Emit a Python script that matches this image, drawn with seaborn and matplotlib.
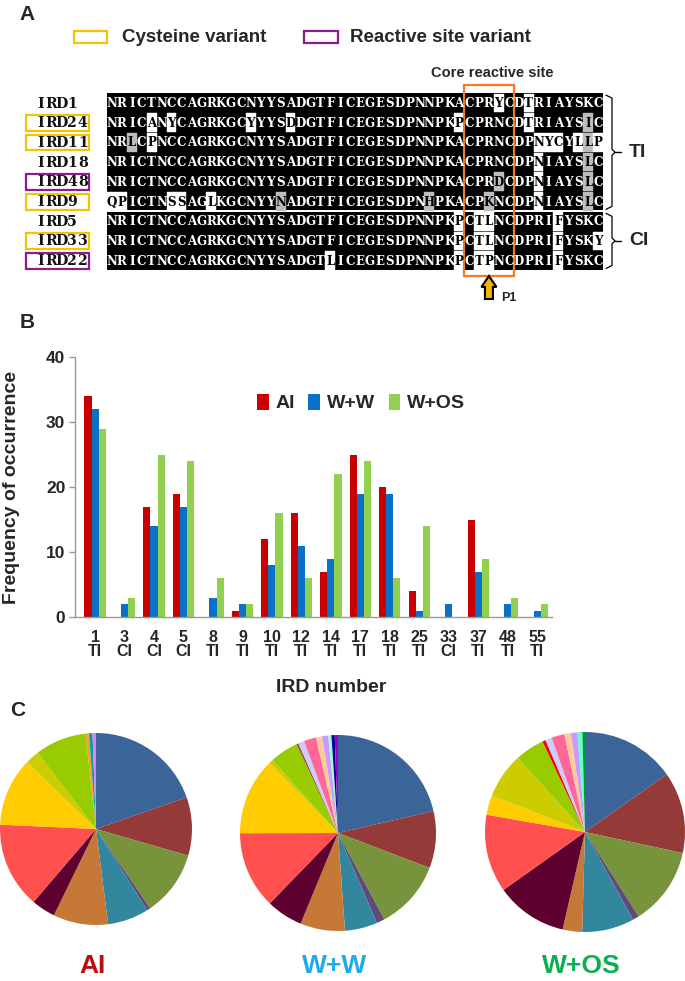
import matplotlib
matplotlib.use("Agg")
import matplotlib.pyplot as plt
import seaborn as sns
import pandas as pd
from collections import Counter
from matplotlib.patches import Rectangle, Polygon
from matplotlib.lines import Line2D

# ---------------- data ----------------
ird_numbers = ["1", "3", "4", "5", "8", "9", "10", "12", "14", "17", "18", "25", "33", "37", "48", "55"]
ird_class = ["TI", "CI", "CI", "CI", "TI", "TI", "TI", "TI", "TI", "TI", "TI", "TI", "CI", "TI", "TI", "TI"]
freq_ai = [34, 0, 17, 19, 0, 1, 12, 16, 7, 25, 20, 4, 0, 15, 0, 0]
freq_ww = [32, 2, 14, 17, 3, 2, 8, 11, 9, 19, 19, 1, 2, 7, 2, 1]
freq_wos = [29, 3, 25, 24, 6, 2, 16, 6, 22, 24, 6, 14, 0, 9, 3, 2]
conditions = ["AI", "W+W", "W+OS"]
bar_colors = ["#C80000", "#0A70C8", "#92D050"]

# pie: main slices (taken from the bar data) and small extra slices
pie_order = ["1", "4", "5", "9", "10", "12", "14", "17", "18", "25", "37"]
pie_main_colors = ["#3B6598", "#943A38", "#77933C", "#604A7B", "#32869E", "#C67836",
                   "#5E0030", "#FF5050", "#FFCC00", "#CCCC00", "#99CC00"]
extra_ai = [1, 1, 1]
extra_ai_colors = ["#FF9933", "#00A3A0", "#EE77FF"]
extra_ww = [0.5, 1.5, 3, 1.5, 1.5, 0.8, 0.8, 0.8]
extra_ww_colors = ["#A0522D", "#CCCCFF", "#FF6699", "#FFCC99", "#CC99FF", "#99FFCC", "#000099", "#9900CC"]
extra_wos = [1, 2, 4, 2, 2, 1.5, 0.8]
extra_wos_colors = ["#FF0000", "#CCCCFF", "#FF6699", "#FFCC99", "#CC99FF", "#66FFCC", "#009933"]
pie_titles = ["AI", "W+W", "W+OS"]
pie_title_colors = ["#B81010", "#1AACEB", "#0BAF50"]

# alignment
seq_names = ["IRD1", "IRD24", "IRD11", "IRD18", "IRD48", "IRD9", "IRD5", "IRD33", "IRD22"]
seqs = [
    "NRICTNCCAGRKGCNYYSADGTFICEGESDPNNPKACPRYCDTRIAYSKC",
    "NRICANYCAGRKGCYYYSDDGTFICEGESDPNNPKPCPRNCDTRIAYSIC",
    "NRLCPNCCAGRKGCNYYSADGTFICEGESDPNNPKACPRNCDPNYCYLLP",
    "NRICTNCCAGRKGCNYYSADGTFICEGESDPNNPKACPRNCDPNIAYSLC",
    "NRICTNCCAGRKGCNYYSADGTFICEGESDPNNPKACPRDCDPNIAYSLC",
    "QPICTNSSAGLKGCNYYNADGTFICEGESDPNHPKACPKNCDPNIAYSLC",
    "NRICTNCCAGRKGCNYYSADGTFICEGESDPNNPKPCTLNCDPRIFYSKC",
    "NRICTNCCAGRKGCNYYSADGTFICEGESDPNNPKPCTLNCDPRIFYSKY",
    "NRICTNCCAGRKGCNYYSADGTLICEGESDPNNPKPCTPNCDPRIFYSKC",
]
variant_type = {"IRD24": "cys", "IRD11": "cys", "IRD9": "cys", "IRD33": "cys",
                "IRD48": "react", "IRD22": "react"}
gray_cells = [("IRD11", 2), ("IRD9", 17), ("IRD9", 32), ("IRD9", 38), ("IRD48", 39),
              ("IRD24", 48), ("IRD11", 48), ("IRD18", 48), ("IRD48", 48), ("IRD9", 48)]
group_labels = ["TI", "CI"]
group_rows = [(0, 5), (6, 8)]

# ---------------- figure ----------------
sns.set_theme(style="ticks")
plt.rcParams["font.family"] = ["Liberation Sans", "DejaVu Sans"]
plt.rcParams["font.weight"] = "bold"
plt.rcParams["axes.labelweight"] = "bold"

W, H = 685, 981
fig = plt.figure(figsize=(W / 100, H / 100), dpi=100)
ov = fig.add_axes([0, 0, 1, 1])
ov.set_xlim(0, W)
ov.set_ylim(H, 0)
ov.axis("off")

CYS_COL = "#F5C400"
REACT_COL = "#8B1C8B"
SEQ_FONT = "DejaVu Serif"

# panel letters
for letter, (lx, ly) in zip("ABC", [(27, 15), (27, 323), (18, 711)]):
    ov.text(lx, ly, letter, ha="center", va="center", fontsize=15, weight="bold")

# legend of panel A
ov.add_patch(Rectangle((74, 31), 33, 12, fill=False, ec=CYS_COL, lw=1.6))
ov.text(122, 37, "Cysteine variant", ha="left", va="center", fontsize=13.5, weight="bold")
ov.add_patch(Rectangle((304, 31), 34, 12, fill=False, ec=REACT_COL, lw=1.6))
ov.text(350, 37, "Reactive site variant", ha="left", va="center", fontsize=13.5, weight="bold")
ov.text(492, 73, "Core reactive site", ha="center", va="center", fontsize=10.5, weight="bold")

# alignment
X0, CW, Y0, RH = 107, 9.92, 103, 19.7
ncol = len(seqs[0])
consensus = [Counter(s[j] for s in seqs).most_common(1)[0][0] for j in range(ncol)]
gray_set = set(gray_cells)
for (r0, r1) in group_rows:
    top = Y0 + (r0 - 0.5) * RH + (1 if r0 > 0 else 0)
    bot = Y0 + (r1 + 0.5) * RH - (1 if r1 < len(seqs) - 1 else 0)
    ov.add_patch(Rectangle((X0, top), ncol * CW, bot - top, color="black", lw=0))

for i, (name, s) in enumerate(zip(seq_names, seqs)):
    yc = Y0 + i * RH
    for j, ch in enumerate(s):
        xc = X0 + (j + 0.5) * CW
        if (name, j) in gray_set:
            bg, fg = "#BDBDBD", "black"
        elif ch != consensus[j]:
            bg, fg = "white", "black"
        else:
            bg, fg = None, "white"
        if bg is not None:
            ov.add_patch(Rectangle((X0 + j * CW, yc - RH / 2 + 0.5), CW, RH - 1,
                                   color=bg, lw=0.3, ec=bg))
        ov.text(xc, yc + 0.5, ch, ha="center", va="center", fontsize=8.6,
                family=SEQ_FONT, weight="bold", color=fg)
    # label
    for k, ch in enumerate(name):
        ov.text(35 + (k + 0.5) * 10.6, yc + 0.5, ch, ha="center", va="center", fontsize=10.2,
                family=SEQ_FONT, weight="bold", color="#111111")
    if name in variant_type:
        col = CYS_COL if variant_type[name] == "cys" else REACT_COL
        ov.add_patch(Rectangle((26, yc - 7.5), 63, 15.5, fill=False, ec=col, lw=1.6))

# brackets
for lab, (r0, r1) in zip(group_labels, group_rows):
    top = Y0 + (r0 - 0.5) * RH + 2
    bot = Y0 + (r1 + 0.5) * RH - 2
    mid = (top + bot) / 2
    bx = 612
    ov.add_line(Line2D([bx - 6, bx, bx, bx + 3, bx, bx, bx - 6],
                       [top, top + 3, mid - 3, mid, mid + 3, bot - 3, bot],
                       color="black", lw=0.9))
    ov.add_line(Line2D([bx + 3, bx + 9], [mid, mid], color="black", lw=1.0))
    ov.text(629, mid, lab, ha="left", va="center", fontsize=14, weight="bold")

# core reactive site box (columns 36-40)
ov.add_patch(Rectangle((X0 + 36 * CW, 85), 5 * CW, 191, fill=False, ec="#F07A28", lw=1.6))
# P1 arrow (column 38)
ax_c = X0 + 38.5 * CW
arrow_pts = [(ax_c - 4, 299), (ax_c - 4, 287), (ax_c - 7.5, 287), (ax_c, 276),
             (ax_c + 7.5, 287), (ax_c + 4, 287), (ax_c + 4, 299)]
ov.add_patch(Polygon(arrow_pts, closed=True, fc="#F5B400", ec="black", lw=1.5))
ov.text(ax_c + 12, 298, "P1", ha="left", va="center", fontsize=9, weight="bold")

# ---------------- panel B: bar chart ----------------
xlabels = [f"{n}\n{c}" for n, c in zip(ird_numbers, ird_class)]
df = pd.DataFrame({
    "label": xlabels * 3,
    "count": freq_ai + freq_ww + freq_wos,
    "cond": [c for c in conditions for _ in xlabels],
})
ax = fig.add_axes([75 / W, 1 - 617 / H, 477 / W, 260 / H])
sns.barplot(data=df, x="label", y="count", hue="cond", hue_order=conditions, order=xlabels,
            palette=bar_colors, width=0.72, saturation=1, ax=ax, linewidth=0)
ax.set_ylim(0, 40)
ax.set_xlim(-0.68, 15.5)
ax.set_yticks([0, 10, 20, 30, 40])
ax.set_xlabel("")
ax.set_ylabel("Frequency of occurrence", fontsize=14, weight="bold")
ax.yaxis.set_label_coords(-0.115, 0.5)
sns.despine(ax=ax)
for sp in ["left", "bottom"]:
    ax.spines[sp].set_color("#999999")
    ax.spines[sp].set_linewidth(1)
ax.tick_params(axis="y", length=4, color="#999999", width=1, labelsize=12.5, pad=3)
ax.tick_params(axis="x", length=0, labelsize=11.5, pad=9)
for t in ax.get_yticklabels() + ax.get_xticklabels():
    t.set_fontweight("bold")
for t in ax.get_xticklabels():
    t.set_linespacing(0.92)
handles, labels = ax.get_legend_handles_labels()
ax.legend(handles, labels, loc="center", bbox_to_anchor=(361 / W, 1 - 403 / H),
          bbox_transform=fig.transFigure, ncol=3, frameon=False, handlelength=0.6,
          handleheight=0.9, handletextpad=0.35, columnspacing=0.7,
          prop={"size": 14, "weight": "bold"})
fig.text(331 / W, 1 - 687 / H, "IRD number", ha="center", va="center", fontsize=14, weight="bold")

# ---------------- panel C: pies ----------------
freq_map = [dict(zip(ird_numbers, f)) for f in (freq_ai, freq_ww, freq_wos)]
extras = [(extra_ai, extra_ai_colors), (extra_ww, extra_ww_colors), (extra_wos, extra_wos_colors)]
pie_geo = [(96, 829, 96), (338, 833, 98), (585, 832, 100)]
for k in range(3):
    cx, cy, r = pie_geo[k]
    vals = [freq_map[k][n] for n in pie_order] + list(extras[k][0])
    cols = pie_main_colors + list(extras[k][1])
    pa = fig.add_axes([(cx - r) / W, 1 - (cy + r) / H, 2 * r / W, 2 * r / H])
    pa.pie(vals, colors=cols, startangle=90, counterclock=False,
           wedgeprops=dict(linewidth=0))
    pa.set_xlim(-1.0, 1.0)
    pa.set_ylim(-1.0, 1.0)
    fig.text(cx / W - 0.005, 1 - 966 / H, pie_titles[k], ha="center", va="center",
             fontsize=19, weight="bold", color=pie_title_colors[k])

fig.savefig("out.png", dpi=100)
